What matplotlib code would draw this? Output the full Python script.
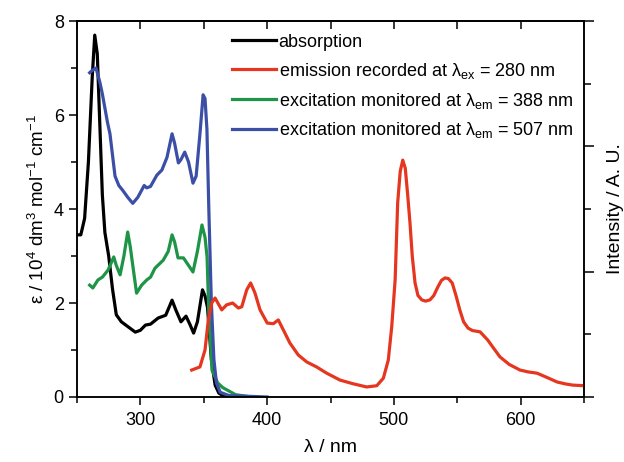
import numpy as np
import matplotlib
matplotlib.use("Agg")
import matplotlib.pyplot as plt
from matplotlib.ticker import MultipleLocator, NullFormatter

plt.rcParams['font.family'] = ['Liberation Sans', 'DejaVu Sans']
plt.rcParams['mathtext.fontset'] = 'custom'
plt.rcParams['mathtext.rm'] = 'Liberation Sans'
plt.rcParams['mathtext.it'] = 'Liberation Sans'
plt.rcParams['axes.linewidth'] = 1.1

# absorption (left axis, 10^4 dm3 mol-1 cm-1)
abs_wl = [250, 253, 256, 259, 262, 264, 266, 268, 270, 272, 275, 278, 281, 285, 290, 296,
          300, 304, 308, 314, 320, 325, 328, 332, 336, 339, 342, 345, 349, 351, 353, 356,
          359, 362, 366, 375]
abs_val = [3.45, 3.45, 3.8, 5.0, 6.8, 7.7, 7.3, 5.8, 4.3, 3.5, 3.0, 2.3, 1.75, 1.6, 1.5, 1.38,
           1.42, 1.53, 1.55, 1.68, 1.74, 2.06, 1.85, 1.6, 1.72, 1.55, 1.36, 1.6, 2.28, 2.15, 1.9, 0.8,
           0.25, 0.08, 0.02, 0.0]

# excitation monitored at 388 nm
ex388_wl = [260, 262.5, 266.5, 270, 274.5, 279, 281, 284, 287, 290, 292, 294, 297, 301, 305,
            308, 311.5, 318, 322, 325, 327, 329.7, 334, 338, 341.5, 345, 348.6, 351, 352.6,
            354, 356.5, 361, 365, 369, 375, 385]
ex388_val = [2.38, 2.32, 2.49, 2.55, 2.7, 2.98, 2.8, 2.6, 3.0, 3.51, 3.2, 2.8, 2.21, 2.38, 2.49,
             2.55, 2.74, 2.91, 3.1, 3.45, 3.3, 2.96, 2.96, 2.8, 2.66, 3.1, 3.66, 3.4, 2.98,
             1.8, 0.57, 0.3, 0.2, 0.14, 0.05, 0.01]

# excitation monitored at 507 nm
ex507_wl = [260, 262, 265, 268, 270, 274, 276, 280, 283, 286, 290, 294, 298, 301, 303, 305,
            308, 313, 317, 321, 325, 327, 330, 332, 335, 338, 341.5, 344, 347, 349.5, 351,
            352.5, 354, 356, 358, 360, 363, 370, 400]
ex507_val = [6.9, 6.95, 7.0, 6.7, 6.45, 5.85, 5.6, 4.7, 4.5, 4.4, 4.25, 4.12, 4.25, 4.4, 4.5, 4.45,
             4.48, 4.72, 4.83, 5.1, 5.6, 5.4, 4.98, 5.05, 5.21, 5.0, 4.55, 4.7, 5.6, 6.43, 6.35,
             5.7, 4.0, 2.0, 0.8, 0.3, 0.1, 0.03, 0.0]

# emission recorded at 280 nm (right axis, A. U.)
em_wl = [340.5, 347, 351, 353.6, 356.3, 358.9, 364.2, 368, 372.8, 377.3, 380, 383.9, 387,
         390.4, 394.4, 400.1, 404.9, 408.8, 412.8, 418, 424.6, 431.2, 439, 447, 457.5, 468,
         478.6, 486.5, 491.7, 495.6, 498.3, 501, 503, 505, 507, 509, 511, 512.7, 514.5, 516.7,
         519, 522, 525, 528.5, 531.5, 534.8, 537.5, 540.3, 543, 546, 549, 552, 555, 558.5,
         562, 568, 574, 579, 583.7, 591, 599.5, 606, 613, 621, 628.7, 635, 641, 650]
em_val = [0.43, 0.48, 0.75, 1.23, 1.5, 1.58, 1.39, 1.47, 1.5, 1.42, 1.44, 1.71, 1.82,
          1.66, 1.39, 1.18, 1.17, 1.23, 1.07, 0.86, 0.67, 0.56, 0.48, 0.38, 0.27, 0.21,
          0.16, 0.18, 0.3, 0.59, 1.12, 1.87, 3.1, 3.6, 3.78, 3.65, 3.2, 2.78, 2.25, 1.82,
          1.62, 1.55, 1.53, 1.55, 1.62, 1.76, 1.86, 1.9, 1.89, 1.82, 1.62, 1.39, 1.2, 1.1,
          1.06, 1.04, 0.91, 0.77, 0.64, 0.52, 0.43, 0.4, 0.38, 0.31, 0.24, 0.21, 0.19, 0.18]

c_red = '#e5361f'
c_green = '#1e9447'
c_blue = '#3b4fa6'
lw = 2.3

fig = plt.figure(figsize=(6.24, 4.62), dpi=100)
ax = fig.add_axes([0.1234, 0.1407, 0.8125, 0.8138])
ax2 = ax.twinx()

l1, = ax.plot(abs_wl, abs_val, color='black', lw=lw, label='absorption')
l3, = ax.plot(ex388_wl, ex388_val, color=c_green, lw=lw,
              label=r'excitation monitored at λ$_{\mathrm{em}}$ = 388 nm')
l4, = ax.plot(ex507_wl, ex507_val, color=c_blue, lw=lw,
              label=r'excitation monitored at λ$_{\mathrm{em}}$ = 507 nm')
l2, = ax2.plot(em_wl, em_val, color=c_red, lw=lw,
               label=r'emission recorded at λ$_{\mathrm{ex}}$ = 280 nm')

ax.set_xlim(250, 650)
ax.set_ylim(0, 8)
ax2.set_ylim(0, 6)

ax.xaxis.set_major_locator(MultipleLocator(100))
ax.xaxis.set_minor_locator(MultipleLocator(50))
ax.yaxis.set_major_locator(MultipleLocator(2))
ax.yaxis.set_minor_locator(MultipleLocator(1))
ax.tick_params(axis='both', which='major', direction='out', length=6, width=1.1, labelsize=13)
ax.tick_params(axis='both', which='minor', direction='out', length=4, width=1.1)
ax.tick_params(axis='x', which='major', pad=5)

ax2.yaxis.set_major_locator(MultipleLocator(2))
ax2.yaxis.set_minor_locator(MultipleLocator(1))
ax2.yaxis.set_major_formatter(NullFormatter())
ax2.tick_params(axis='y', which='major', direction='out', length=7, width=1.1)
ax2.tick_params(axis='y', which='minor', direction='out', length=5, width=1.1)

top = ax.secondary_xaxis('top')
top.xaxis.set_major_locator(MultipleLocator(50))
top.xaxis.set_major_formatter(NullFormatter())
top.tick_params(axis='x', direction='in', length=6, width=1.1)

ax.set_xlabel('λ / nm', fontsize=14, labelpad=7)
ax.set_ylabel(r'ε / 10$^{4}$ dm$^{3}$ mol$^{-1}$ cm$^{-1}$', fontsize=13.5, labelpad=4)
ax2.set_ylabel('Intensity / A. U.', fontsize=14, labelpad=6)

ax.legend(handles=[l1, l2, l3, l4], loc='upper left', bbox_to_anchor=(0.28, 1.0),
          frameon=False, fontsize=13, handlelength=2.45, handletextpad=0.15,
          labelspacing=0.55, borderaxespad=0.3)

fig.savefig('out.png', dpi=100)
